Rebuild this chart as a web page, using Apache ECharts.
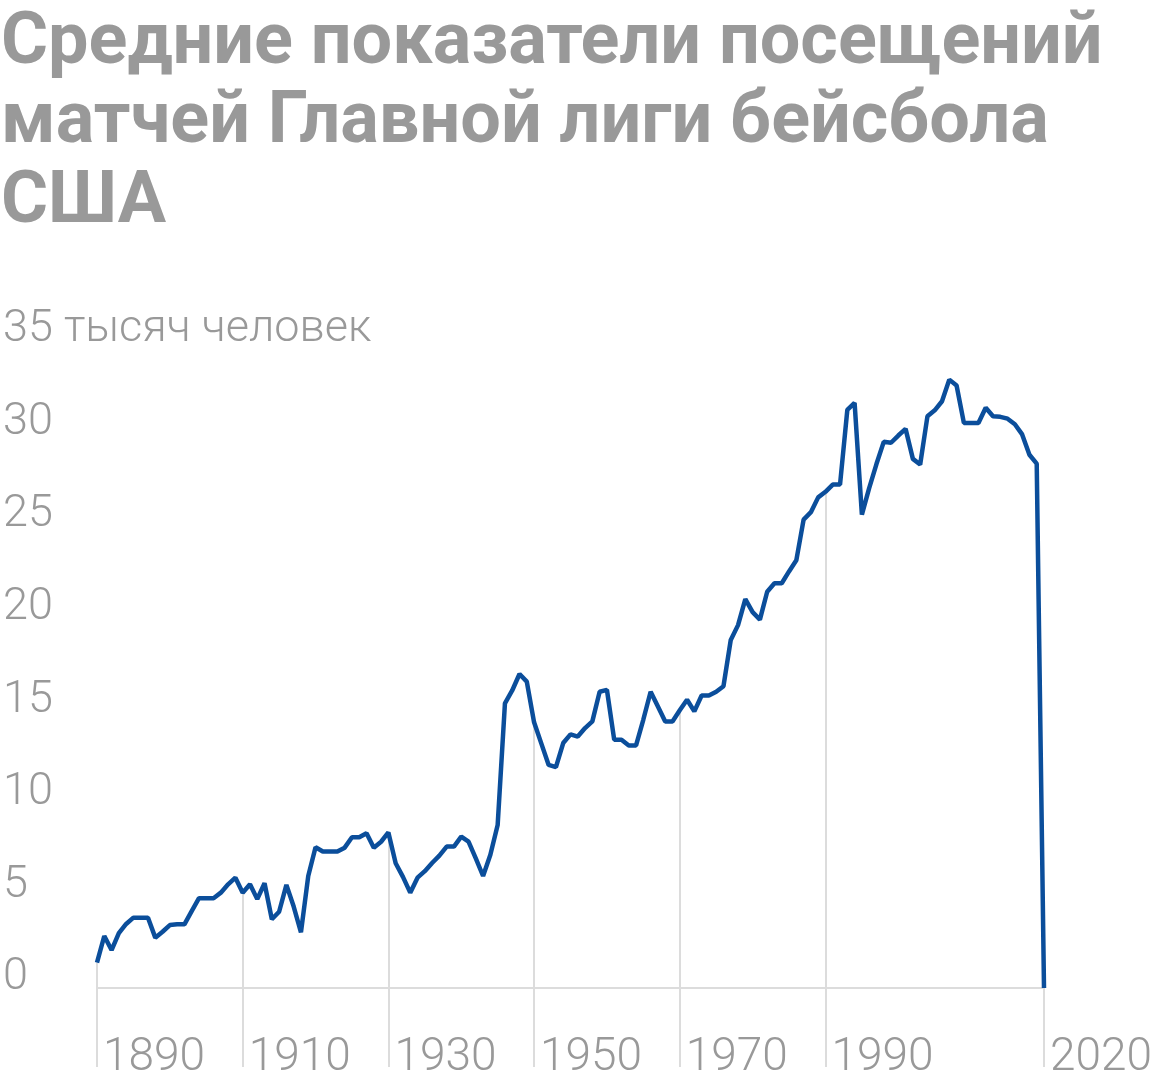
<!DOCTYPE html>
<html>
<head>
<meta charset="utf-8">
<title>Посещаемость матчей MLB</title>
<script src="https://cdn.jsdelivr.net/npm/echarts@6/dist/echarts.min.js"></script>
<style>
html, body { margin: 0; padding: 0; background: #fff; }
#main { width: 1160px; height: 1088px; }
</style>
</head>
<body>
<div id="main"></div>
<script>
// seasons, one per year
var years = [
  1890, 1891, 1892, 1893, 1894, 1895, 1896, 1897, 1898, 1899,
  1900, 1901, 1902, 1903, 1904, 1905, 1906, 1907, 1908, 1909,
  1910, 1911, 1912, 1913, 1914, 1915, 1916, 1917, 1918, 1919,
  1920, 1921, 1922, 1923, 1924, 1925, 1926, 1927, 1928, 1929,
  1930, 1931, 1932, 1933, 1934, 1935, 1936, 1937, 1938, 1939,
  1940, 1941, 1942, 1943, 1944, 1945, 1946, 1947, 1948, 1949,
  1950, 1951, 1952, 1953, 1954, 1955, 1956, 1957, 1958, 1959,
  1960, 1961, 1962, 1963, 1964, 1965, 1966, 1967, 1968, 1969,
  1970, 1971, 1972, 1973, 1974, 1975, 1976, 1977, 1978, 1979,
  1980, 1981, 1982, 1983, 1984, 1985, 1986, 1987, 1988, 1989,
  1990, 1991, 1992, 1993, 1994, 1995, 1996, 1997, 1998, 1999,
  2000, 2001, 2002, 2003, 2004, 2005, 2006, 2007, 2008, 2009,
  2010, 2011, 2012, 2013, 2014, 2015, 2016, 2017, 2018, 2019,
  2020
];

// average attendance per game, thousands
var attendance = [
  1.37, 2.81, 2.05, 2.96, 3.46, 3.80, 3.80, 3.80, 2.72, 3.04,
  3.40, 3.44, 3.44, 4.15, 4.85, 4.85, 4.85, 5.15, 5.60, 5.96,
  5.15, 5.60, 4.80, 5.66, 3.71, 4.12, 5.57, 4.40, 3.01, 6.05,
  7.60, 7.37, 7.37, 7.37, 7.58, 8.14, 8.14, 8.36, 7.58, 7.90,
  8.40, 6.74, 6.00, 5.15, 5.96, 6.31, 6.75, 7.15, 7.64, 7.64,
  8.18, 7.91, 7.00, 6.05, 7.20, 8.80, 15.37, 16.07, 16.96, 16.55,
  14.35, 13.20, 12.05, 11.93, 13.23, 13.70, 13.58, 14.04, 14.40, 16.00,
  16.10, 13.41, 13.41, 13.10, 13.10, 14.50, 16.00, 15.20, 14.40, 14.40,
  15.00, 15.57, 14.94, 15.80, 15.80, 16.00, 16.30, 18.80, 19.60, 21.00,
  20.30, 19.90, 21.40, 21.86, 21.86, 22.50, 23.10, 25.30, 25.70, 26.50,
  26.80, 27.19, 27.19, 31.22, 31.60, 25.57, 27.00, 28.30, 29.50, 29.45,
  29.84, 30.20, 28.58, 28.27, 30.88, 31.20, 31.69, 32.86, 32.54, 30.52,
  30.52, 30.52, 31.34, 30.88, 30.85, 30.75, 30.45, 29.90, 28.80, 28.32,
  0
];

var tickYears = [1890, 1910, 1930, 1950, 1970, 1990, 2020];
var yMax = 35;
var yStep = 5;
var unitText = 'тысяч человек';
var titleText = 'Средние показатели посещений\nматчей Главной лиги бейсбола\nСША';

var gray = '#999999';
var light = '#dcdcdc';
var blue = '#0b4e9b';
var font = 'Roboto, "Noto Sans", sans-serif';

function isTick(idx, val) {
  return tickYears.indexOf(Number(val)) >= 0;
}

// vertical guides from the baseline up to the line
var guides = [];
tickYears.forEach(function (y) {
  var i = years.indexOf(y);
  if (attendance[i] > 0) {
    guides.push([{ coord: [String(y), 0] }, { coord: [String(y), attendance[i]] }]);
  }
});

var myChart = echarts.init(document.getElementById('main'));
myChart.setOption({
  animation: false,
  title: {
    text: titleText,
    left: 1,
    top: 5,
    padding: 0,
    textStyle: {
      color: gray,
      fontFamily: font,
      fontWeight: 'bold',
      fontSize: 72,
      lineHeight: 79.5
    }
  },
  grid: {
    left: 97,
    right: 116,
    top: 340,
    bottom: 100,
    outerBoundsMode: 'none'
  },
  xAxis: {
    type: 'category',
    data: years.map(String),
    boundaryGap: false,
    axisLine: { lineStyle: { color: light, width: 2 } },
    axisTick: {
      interval: isTick,
      length: 79,
      lineStyle: { color: light, width: 2 }
    },
    axisLabel: {
      interval: isTick,
      align: 'left',
      margin: 47,
      padding: [0, 0, 0, 6],
      color: gray,
      fontFamily: font,
      fontWeight: 300,
      fontSize: 46
    },
    splitLine: { show: false }
  },
  yAxis: {
    type: 'value',
    min: 0,
    max: yMax,
    interval: yStep,
    axisLine: { show: false },
    axisTick: { show: false },
    splitLine: { show: false },
    axisLabel: {
      margin: 94,
      align: 'left',
      verticalAlign: 'bottom',
      lineHeight: 20,
      color: gray,
      fontFamily: font,
      fontWeight: 300,
      fontSize: 45,
      formatter: function (v) {
        return v === yMax ? v + ' ' + unitText : String(v);
      }
    }
  },
  series: [{
    type: 'line',
    data: attendance,
    showSymbol: false,
    lineStyle: { color: blue, width: 4.5 },
    z: 3,
    markLine: {
      silent: true,
      symbol: 'none',
      label: { show: false },
      lineStyle: { color: light, width: 2, type: 'solid' },
      data: guides,
      z: 1
    }
  }]
});
</script>
</body>
</html>
